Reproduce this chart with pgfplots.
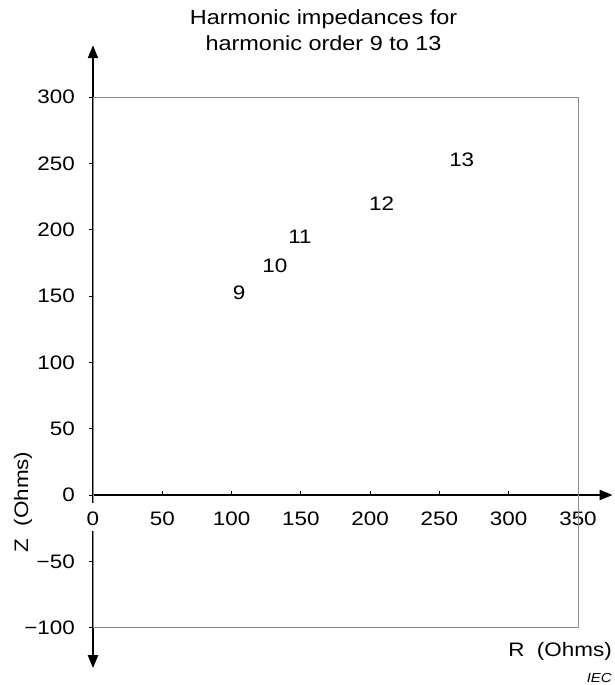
\documentclass[border=0pt]{standalone}
\usepackage{fontspec}
\setmainfont{Liberation Sans}[FakeStretch=1.15]
\usepackage{pgfplots}
\pgfplotsset{compat=1.18}
\usetikzlibrary{arrows.meta}
\definecolor{framegray}{RGB}{140,140,140}
\newcommand{\lbl}{\fontsize{19.5bp}{24bp}\selectfont}
\newcommand{\ttl}{\fontsize{20.4bp}{25bp}\selectfont}

\begin{document}
\begin{tikzpicture}
\begin{axis}[
  x=1.3857bp, y=1.3267bp,
  axis lines=middle,
  xmin=0, xmax=375, ymin=-130.5, ymax=339,
  clip=false,
  axis line style={line width=2.2bp, black},
  x axis line style={-{Triangle[length=13bp,width=10bp]}},
  y axis line style={{Triangle[length=13bp,width=10bp]}-{Triangle[length=13bp,width=10bp]}},
  xtick={50,100,...,350},
  xticklabels={50,100,150,200,250,300,350},
  ytick={-100,-50,...,300},
  yticklabels={−100,−50,0,50,100,150,200,250,300},
  hide obscured x ticks=false, hide obscured y ticks=false,
  major tick length=4bp,
  tick style={line width=0.8bp, black},
  xtick align=inside, ytick align=outside,
  xticklabel style={font=\lbl, anchor=north, inner sep=0pt, yshift=-17bp},
  yticklabel style={font=\lbl, anchor=east, inner sep=0pt, xshift=-14bp},
]
  % gray frame of the plot area
  \draw[framegray, line width=0.9bp] (axis cs:0,-100) rectangle (axis cs:350,300);

  % harmonic order labels
  \addplot[only marks, mark=none, nodes near coords, point meta=explicit symbolic,
    every node near coord/.append style={anchor=center, inner sep=0pt, font=\lbl}]
    table[meta=label] {
x y label
105.4 152.5 9
131.3 172.6 10
149.4 194.7 11
208.3 219.3 12
266.1 252.5 13
};

  % gap in the y axis for the x tick label 0
  \fill[white] (axis cs:-3,-6) rectangle (axis cs:3,-27.1);
  \node[font=\lbl, anchor=north, inner sep=0pt] at (axis cs:0,0) [yshift=-17bp] {0};

  \node[font=\ttl, anchor=base] at (axis cs:166.4,354.3) {Harmonic impedances for};
  \node[font=\ttl, anchor=base] at (axis cs:166.4,335.4) {harmonic order 9 to 13};
  \node[font=\lbl, rotate=90] at (axis cs:-50.5,-5.3) {Z\ \ (Ohms)};
  \node[font=\lbl, anchor=base east, inner sep=0pt] at (axis cs:374.5,-121.9) {R\ \ (Ohms)};
  \node[font=\fontsize{13bp}{15bp}\selectfont\itshape, anchor=base east, inner sep=0pt]
    at (axis cs:374.5,-141) {IEC};

  \coordinate (bbtl) at (axis cs:-67.1,373.1);
  \coordinate (bbbr) at (axis cs:376.0,-143.2);
\end{axis}
\pgfresetboundingbox
\path (bbtl) rectangle (bbbr);
\end{tikzpicture}
\end{document}
